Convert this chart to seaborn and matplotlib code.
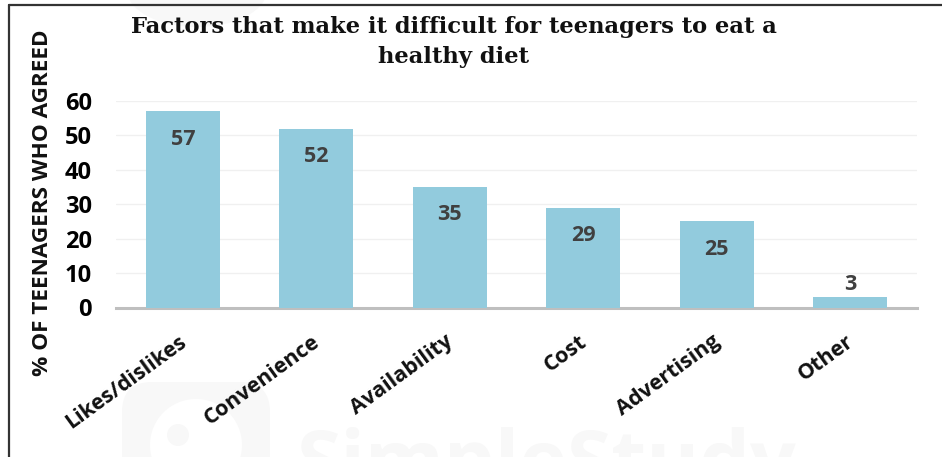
import matplotlib
matplotlib.use("Agg")
import matplotlib.pyplot as plt
from matplotlib.lines import Line2D
from matplotlib.patches import Circle, Ellipse, FancyBboxPatch
from matplotlib.transforms import Affine2D, ScaledTranslation
import pandas as pd
import seaborn as sns

# values
factors = ["Likes/dislikes", "Convenience", "Availability", "Cost", "Advertising", "Other"]
agreed = [57, 52, 35, 29, 25, 3]
y_ticks = [0, 10, 20, 30, 40, 50, 60]

title_text = "Factors that make it difficult for teenagers to eat a\nhealthy diet"
y_label = "% OF TEENAGERS WHO AGREED"

W, H = 942, 457
BAR = "#92CBDD"
MARK = "#F8F8F8"

sns.set_style("white")
plt.rcParams["font.family"] = ["Open Sans", "DejaVu Sans"]

df = pd.DataFrame({"factor": factors, "agreed": agreed})

fig = plt.figure(figsize=(W / 100, H / 100), dpi=100)
ax = fig.add_axes([116 / W, 1 - 307.5 / H, 801 / W, 206.5 / H])
ax.patch.set_alpha(0)

# faint watermark behind everything, placed in pixels from the top-left corner
px = Affine2D().scale(1, -1).translate(0, H)
fig.text(296 / W, 1 - 488 / H, "SimpleStudy", fontsize=58, fontweight="bold",
         color=MARK, ha="left", va="baseline", zorder=0)
fig.add_artist(FancyBboxPatch((122, 382), 148, 130, boxstyle="round,pad=0,rounding_size=30",
                              fc=MARK, ec="none", zorder=0, transform=px))
fig.add_artist(Circle((196, 445), 46, fc="white", ec="none", zorder=0, transform=px))
fig.add_artist(Circle((178, 435), 11, fc=MARK, ec="none", zorder=0, transform=px))
fig.add_artist(Ellipse((197, -10), 140, 74, fc=MARK, ec="none", zorder=0, transform=px))

sns.barplot(data=df, x="factor", y="agreed", color=BAR, width=0.555,
            saturation=1, linewidth=0, ax=ax, zorder=3)

ax.set_ylim(0, 60)
ax.set_xlim(-0.5, 5.5)
ax.set_yticks(y_ticks)
ax.yaxis.grid(True, color="#F0F0F0", lw=1)
ax.set_axisbelow(True)
ax.set_xlabel("")
ax.set_ylabel("")

sns.despine(ax=ax, left=True)
ax.spines["bottom"].set_color("#BFBFBF")
ax.spines["bottom"].set_linewidth(2.2)

ax.tick_params(axis="both", length=0)
ax.tick_params(axis="y", labelsize=17, pad=17.5)
for t in ax.get_yticklabels():
    t.set_fontweight("bold")
    t.set_color("black")
ax.set_xticks(range(len(factors)))
ax.set_xticklabels(factors, rotation=36, ha="right", rotation_mode="anchor",
                   fontsize=15.5, fontweight="bold", color="#111111")
ax.tick_params(axis="x", pad=17)
# nudge the slanted labels left so their ends sit near the bar centres
shift = ScaledTranslation(-5 / 100, 0, fig.dpi_scale_trans)
for t in ax.get_xticklabels():
    t.set_transform(t.get_transform() + shift)

# data labels: inside the bar end, except the short one
for i, v in enumerate(agreed):
    if v > 5:
        ax.annotate(str(v), (i, v), xytext=(0, -12.5), textcoords="offset points",
                    ha="center", va="top", fontsize=15.5, fontweight="bold",
                    color="#404040", zorder=5)
    else:
        ax.annotate(str(v), (i, v), xytext=(0, 1.5), textcoords="offset points",
                    ha="center", va="bottom", fontsize=15.5, fontweight="bold",
                    color="#404040", zorder=5)

fig.text(454 / W, 1 - 42 / H, title_text, ha="center", va="center",
         fontsize=16.3, fontweight="bold", family="DejaVu Serif", color="#111111",
         linespacing=1.45)
fig.text(43 / W, 1 - 203 / H, y_label, rotation=90, ha="center", va="center",
         fontsize=16.2, fontweight="bold", color="#111111")

# dark border of the cropped page, top and left edges
fig.add_artist(Line2D([9 / W, 9 / W], [0, 1 - 5 / H], color="#333333", lw=1.6))
fig.add_artist(Line2D([9 / W, 1], [1 - 5 / H, 1 - 5 / H], color="#333333", lw=1.6))

fig.savefig("out.png", dpi=100)
